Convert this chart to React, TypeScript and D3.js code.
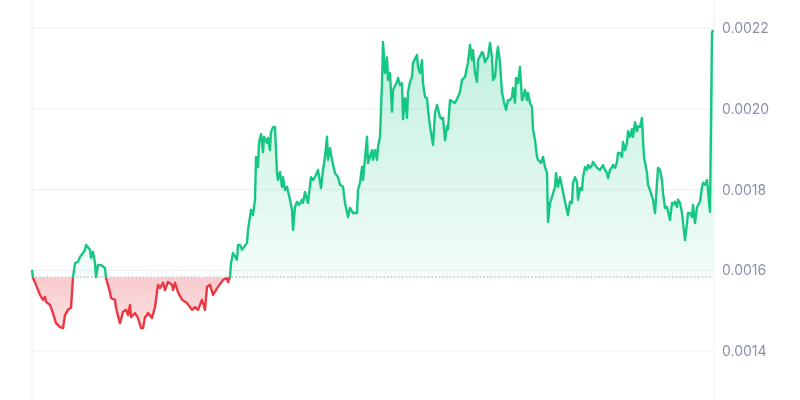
import * as d3 from 'd3';
import React from 'react';

// time steps (sample index) and price in millionths of a dollar
const steps = [
  0, 1, 4, 8, 11, 13, 14, 18, 21, 24, 28, 31, 33, 36, 39, 41, 43, 46, 48, 51,
  53, 54, 58, 59, 61, 63, 64, 66, 69, 73, 74, 78, 79, 83, 84, 88, 91, 94, 96, 98,
  99, 103, 106, 109, 111, 113, 115, 116, 120, 123, 125, 126, 128, 131, 133, 136, 140, 141, 143, 146,
  150, 155, 160, 163, 166, 170, 173, 175, 178, 181, 186, 191, 195, 196, 198, 199, 201, 205, 206, 208,
  210, 215, 216, 219, 221, 223, 224, 226, 227, 229, 231, 232, 235, 236, 238, 239, 241, 243, 245, 246,
  248, 250, 251, 253, 255, 258, 260, 261, 263, 265, 267, 270, 271, 273, 276, 279, 281, 283, 286, 289,
  291, 293, 295, 296, 298, 300, 303, 306, 308, 311, 313, 316, 318, 321, 325, 326, 328, 330, 331, 335,
  336, 340, 341, 343, 345, 346, 348, 350, 351, 353, 355, 356, 358, 360, 361, 365, 366, 368, 370, 371,
  373, 375, 376, 378, 380, 381, 385, 386, 388, 390, 391, 393, 395, 396, 398, 401, 403, 405, 408, 410,
  411, 413, 415, 416, 418, 421, 423, 426, 428, 430, 433, 435, 436, 438, 440, 441, 443, 445, 446, 450,
  451, 453, 455, 456, 458, 460, 461, 463, 465, 466, 468, 470, 472, 474, 476, 478, 480, 481, 483, 484,
  486, 488, 490, 491, 493, 495, 496, 498, 500, 501, 503, 505, 506, 509, 511, 513, 515, 516, 518, 520,
  523, 524, 526, 528, 530, 533, 536, 538, 540, 541, 543, 545, 546, 548, 550, 551, 553, 555, 556, 558,
  560, 561, 563, 565, 568, 571, 573, 575, 576, 578, 580, 581, 583, 585, 586, 588, 590, 591, 593, 595,
  596, 598, 600, 601, 603, 605, 606, 608, 610, 611, 612, 615, 616, 618, 621, 623, 625, 626, 628, 630,
  631, 633, 635, 638, 640, 641, 643, 645, 646, 648, 650, 653, 655, 656, 658, 660, 661, 663, 665, 668,
  670, 671, 673, 675, 676, 678, 680, 681,
];

const pricesE6 = [
  1601, 1581, 1564, 1539, 1527, 1534, 1522, 1514, 1494, 1469, 1459, 1457, 1489, 1502, 1507, 1583, 1618, 1621, 1633, 1643,
  1651, 1663, 1651, 1631, 1646, 1618, 1583, 1613, 1613, 1606, 1581, 1546, 1531, 1527, 1507, 1469, 1497, 1502, 1489, 1514,
  1484, 1494, 1482, 1457, 1457, 1484, 1489, 1494, 1482, 1509, 1546, 1564, 1556, 1569, 1551, 1571, 1564, 1551, 1569, 1546,
  1527, 1519, 1502, 1509, 1502, 1527, 1502, 1559, 1564, 1539, 1559, 1576, 1581, 1571, 1583, 1618, 1643, 1626, 1663, 1663,
  1651, 1668, 1700, 1750, 1737, 1775, 1881, 1856, 1916, 1938, 1893, 1931, 1916, 1928, 1898, 1943, 1955, 1955, 1841, 1824,
  1844, 1807, 1831, 1799, 1807, 1775, 1750, 1700, 1757, 1770, 1762, 1775, 1767, 1794, 1767, 1831, 1824, 1831, 1849, 1804,
  1849, 1881, 1931, 1874, 1903, 1874, 1841, 1831, 1812, 1807, 1767, 1732, 1755, 1742, 1742, 1799, 1817, 1856, 1824, 1931,
  1866, 1898, 1874, 1898, 1874, 1906, 1931, 2064, 2166, 2089, 2128, 2072, 2089, 1993, 2047, 2067, 2077, 2059, 2064, 1975,
  2027, 1978, 2042, 2067, 2079, 2114, 2134, 2104, 2089, 2121, 2064, 2030, 2027, 1998, 1957, 1911, 1990, 2010, 1980, 1975,
  1978, 1923, 1957, 1950, 2022, 2017, 2015, 2030, 2042, 2072, 2079, 2104, 2114, 2159, 2121, 2146, 2089, 2067, 2121, 2141,
  2139, 2116, 2126, 2128, 2164, 2128, 2072, 2079, 2139, 2154, 2114, 2040, 2017, 1998, 2022, 2022, 2030, 2052, 2015, 2077,
  2064, 2104, 2022, 2027, 2047, 2022, 2040, 2015, 2005, 1950, 1923, 1881, 1874, 1866, 1881, 1856, 1841, 1720, 1767, 1782,
  1807, 1841, 1807, 1831, 1807, 1770, 1737, 1770, 1767, 1817, 1831, 1819, 1775, 1804, 1799, 1831, 1856, 1849, 1861, 1854,
  1861, 1869, 1861, 1854, 1849, 1861, 1849, 1841, 1829, 1849, 1856, 1861, 1854, 1869, 1891, 1891, 1881, 1918, 1898, 1916,
  1945, 1931, 1950, 1931, 1967, 1945, 1957, 1955, 1978, 1923, 1881, 1841, 1812, 1799, 1775, 1742, 1817, 1854, 1849, 1824,
  1792, 1755, 1757, 1725, 1767, 1762, 1770, 1757, 1775, 1767, 1742, 1675, 1717, 1742, 1742, 1732, 1762, 1717, 1757, 1770,
  1807, 1817, 1812, 1824, 1799, 1745, 2188, 2196,
];

const yTicks = [0.0014, 0.0016, 0.0018, 0.002, 0.0022];
const basePrice = 0.001583;

const WIDTH = 800;
const HEIGHT = 400;
const GREEN = '#16c784';
const RED = '#ea3943';

export default function App() {
  const data = steps.map((s, i) => ({ t: s, v: pricesE6[i] / 1e6 }));

  const x = d3.scaleLinear().domain([0, 681]).range([32, 713]);
  const y = d3.scaleLinear().domain([0.0014, 0.0022]).range([351, 28.3]);

  const plotLeft = 32;
  const plotRight = 714;
  const y0 = y(basePrice);

  const line = d3.line<{ t: number; v: number }>()
    .x(d => x(d.t))
    .y(d => y(d.v));
  const area = d3.area<{ t: number; v: number }>()
    .x(d => x(d.t))
    .y0(y0)
    .y1(d => y(d.v));

  const linePath = line(data) || '';
  const areaPath = area(data) || '';
  const minY = y(d3.max(data, d => d.v) as number);
  const maxY = y(d3.min(data, d => d.v) as number);

  return (
    <div style={{ position: 'fixed', left: 0, top: 0 }}>
      <svg width={WIDTH} height={HEIGHT} style={{ display: 'block' }}>
        <defs>
          <clipPath id="above">
            <rect x={0} y={0} width={WIDTH} height={y0} />
          </clipPath>
          <clipPath id="below">
            <rect x={0} y={y0} width={WIDTH} height={HEIGHT - y0} />
          </clipPath>
          <linearGradient id="greenFill" gradientUnits="userSpaceOnUse" x1={0} x2={0} y1={minY} y2={y0}>
            <stop offset="0%" stopColor={GREEN} stopOpacity={0.28} />
            <stop offset="100%" stopColor={GREEN} stopOpacity={0.05} />
          </linearGradient>
          <linearGradient id="redFill" gradientUnits="userSpaceOnUse" x1={0} x2={0} y1={y0} y2={maxY}>
            <stop offset="0%" stopColor={RED} stopOpacity={0.26} />
            <stop offset="100%" stopColor={RED} stopOpacity={0.16} />
          </linearGradient>
        </defs>

        {/* grid */}
        {yTicks.map(t => (
          <line key={t} x1={plotLeft} x2={plotRight} y1={y(t)} y2={y(t)} stroke="#edf0f4" strokeWidth={1} />
        ))}
        <line x1={plotLeft} x2={plotLeft} y1={0} y2={HEIGHT} stroke="#edf0f4" strokeWidth={1} />
        <line x1={plotRight} x2={plotRight} y1={0} y2={HEIGHT} stroke="#edf0f4" strokeWidth={1} />

        {/* fills */}
        <path d={areaPath} fill="url(#greenFill)" clipPath="url(#above)" />
        <path d={areaPath} fill="url(#redFill)" clipPath="url(#below)" />

        {/* baseline */}
        <line x1={plotLeft} x2={plotRight - 2} y1={y0} y2={y0} stroke="#a7adb9" strokeWidth={1.2} strokeDasharray="1.2 2.5" />

        {/* price line */}
        <path d={linePath} fill="none" stroke={GREEN} strokeWidth={2.4} strokeLinejoin="round" clipPath="url(#above)" />
        <path d={linePath} fill="none" stroke={RED} strokeWidth={2.4} strokeLinejoin="round" clipPath="url(#below)" />

        {/* y axis labels */}
        {yTicks.map(t => (
          <text
            key={t}
            x={722}
            y={y(t)}
            dy="0.35em"
            fontFamily="Inter, 'Noto Sans', sans-serif"
            fontSize={14}
            fill="#8a91a5"
          >
            {t.toFixed(4)}
          </text>
        ))}
      </svg>
    </div>
  );
}
